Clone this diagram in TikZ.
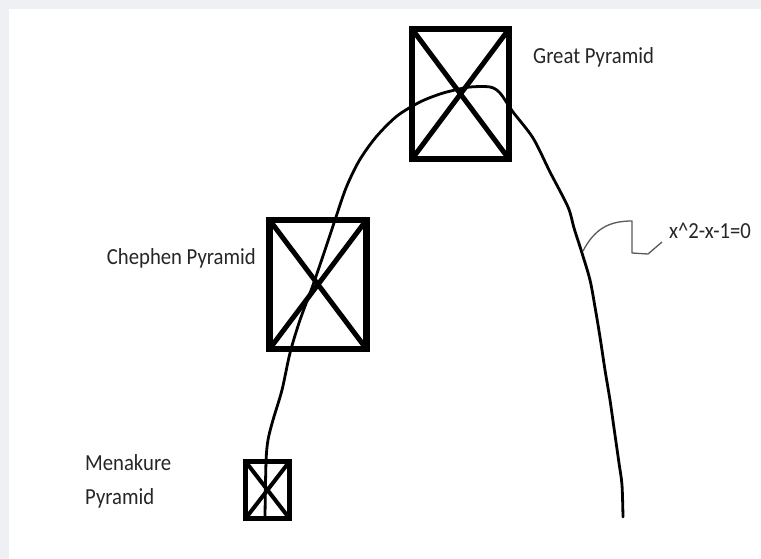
\documentclass[tikz,border=0pt]{standalone}
\usepackage{fontspec}
\setmainfont{Carlito}[FakeStretch=0.9]
\usepackage{xcolor}
\usetikzlibrary{positioning}
\definecolor{framegray}{RGB}{238,240,243}
\definecolor{leadgray}{RGB}{90,90,90}

\begin{document}
\begin{tikzpicture}[x=1pt,y=-1pt,
  pyr/.style={draw,line width=6.5pt,inner sep=0pt,outer sep=0pt,rectangle},
  diag/.style={line width=5pt},
  lbl/.style={inner sep=0pt,text=black!85,font=\fontsize{23}{27}\selectfont},
  curve/.style={line width=2.8pt,line join=round,line cap=round},
  leader/.style={draw=leadgray,line width=1.3pt,line join=round}]
  % page and grey frame
  \fill[framegray] (0,0) rectangle (761,559);
  \fill[white] (9,9) rectangle (761,559);
  \useasboundingbox (0,0) rectangle (761,559);

  \node[pyr,minimum width=97pt,minimum height=130pt] (great) at (460.5,94) {};
  \node[pyr,minimum width=97pt,minimum height=129pt] (chephen) at (318,284.5) {};
  \node[pyr,line width=5pt,minimum width=44pt,minimum height=57pt] (menakure) at (267.5,490) {};

  \draw[diag] (great.north west) -- (great.south east);
  \draw[diag] (great.north east) -- (great.south west);
  \draw[diag] (chephen.north west) -- (chephen.south east);
  \draw[diag] (chephen.north east) -- (chephen.south west);
  \draw[diag,line width=4pt] (menakure.north west) -- (menakure.south east);
  \draw[diag,line width=4pt] (menakure.north east) -- (menakure.south west);

  \node[lbl,anchor=base west] (greatlbl) at (533,64) {Great Pyramid};
  \node[lbl,anchor=base east] (chephenlbl) at (256,264) {Chephen Pyramid};
  \node[lbl,anchor=base west] (menalbl) at (85,470) {Menakure};
  \node[lbl,anchor=base west] (menalbl2) at (85,504) {Pyramid};
  \node[lbl,anchor=base west] (eqlbl) at (669,239) {x\^{}2-x-1=0};

  % the parabola
  \draw[curve] plot[smooth,tension=0.5] coordinates {
    (265,516) (266,462) (268,440) (273,420) (282,390) (290,353)
    (300,320) (313,285) (325,250) (335,220) (346,188) (359,161)
    (376,137) (397,116) (420,102) (440,94) (455,90) (470,87)
    (490,87) (500,93) (513,112) (533,138) (550,172) (568,207)
    (574,228) (582,253) (590,280) (595,307) (600,337) (605,370)
    (610,400) (614,428) (619,463) (622,485) (623,517)};

  \coordinate (lead) at (583,251);
  \coordinate (leadend) at (662,242);
  \draw[leader] (lead) .. controls (595,228) and (610,221) .. (632,221)
    -- (632,253) -- (648,254) -- (leadend);
\end{tikzpicture}
\end{document}
